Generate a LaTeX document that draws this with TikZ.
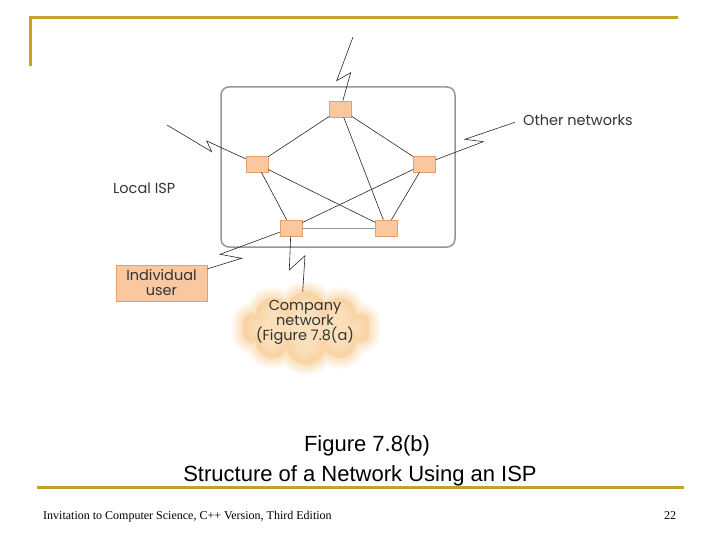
\documentclass[tikz,border=0pt]{standalone}
\usepackage{fontspec}
\setmainfont{Liberation Sans}
\newfontfamily\figfont{Poppins}
\newfontfamily\footfont{Liberation Serif}
\usetikzlibrary{shapes.symbols}

\definecolor{slidegold}{RGB}{198,160,42}
\definecolor{ispgray}{RGB}{150,150,150}
\definecolor{routerfill}{RGB}{250,200,160}
\definecolor{routeredge}{RGB}{228,160,110}
\definecolor{cloudfill}{RGB}{248,205,150}

\begin{document}
\begin{tikzpicture}[x = 1pt, y = -1pt,
	router/.style = {draw = routeredge, fill = routerfill, line width = 0.6pt,
		minimum width = 22pt, minimum height = 16pt, inner sep = 0pt},
	userbox/.style = {draw = routeredge, fill = routerfill, line width = 0.6pt,
		minimum width = 91pt, minimum height = 36pt, inner sep = 0pt, align = center},
	figtext/.style = {font = \figfont\fontsize{14.5}{15}\selectfont, text = black!80, align = center, inner sep = 0pt},
	link/.style = {line width = 0.6pt, black!85},
	bolt/.style = {line width = 0.6pt, black!85}]

	% Page size
	
	\useasboundingbox (0, 0) rectangle (720, 540);
	
	% Slide frame
	
	\draw [slidegold, line width = 3pt] (30, 66) -- (30, 18) -- (678, 18);
	\draw [slidegold, line width = 3pt] (37, 487) -- (684, 487);
	
	% The ISP
	
	\draw [ispgray, line width = 1.5pt, rounded corners = 8pt] (221, 87) rectangle (455, 247);
	
	% Routers
	
	\node [router] (rtop) at (340.5, 109) {};
	\node [router] (rleft) at (257, 164) {};
	\node [router] (rright) at (424.5, 164) {};
	\node [router] (rbl) at (291, 228) {};
	\node [router] (rbr) at (386.5, 228) {};
	
	% Links between routers
	
	\begin{scope}[link]
	
		\draw (rtop) -- (rleft);
		\draw (rtop) -- (rright);
		\draw (rtop) -- (rbr);
		\draw (rleft) -- (rbl);
		\draw (rleft) -- (rbr);
		\draw (rright) -- (rbl);
		\draw (rright) -- (rbr);
		
	\end{scope}
	
	\draw [ispgray, line width = 0.8pt] (rbl) -- (rbr);
	
	% The company network cloud
	
	\foreach \w/\o in {22/0.15, 16/0.2, 10/0.25, 4/0.3}
		\node [cloud, cloud puffs = 10, cloud ignores aspect, minimum width = 128pt, minimum height = 72pt,
			fill = cloudfill, draw = cloudfill, line width = \w pt, opacity = \o] at (306, 328) {};
	
	\node [figtext] (company) at (305, 322.5) {Company\\network\\(Figure 7.8(a)};
	
	% Outside world
	
	\node [userbox, figtext] (user) at (161.5, 283) {Individual\\user};
	\node [figtext, anchor = west] (localisp) at (113, 188) {Local ISP};
	\node [figtext, anchor = west] (other) at (523, 120) {Other networks};
	
	\coordinate (topend) at (353, 37);
	\coordinate (leftend) at (167, 125);
	\coordinate (rightend) at (515, 122.3);
	\coordinate (cloudtop) at (302.7, 291.7);
	
	% Lightning links
	
	\begin{scope}[bolt]
	
		\draw (rtop) -- (350.7, 72.7) -- (336.7, 80.7) -- (topend);
		\draw (rleft) -- (206.7, 141) -- (211.7, 151.7) -- (leftend);
		\draw (rright) -- (483.3, 141.7) -- (465, 139.3) -- (rightend);
		\draw (rbl) -- (220, 254.3) -- (241.7, 258.3) -- (user);
		\draw (rbl) -- (289.3, 270) -- (305, 255.7) -- (cloudtop);
		
	\end{scope}
	
	% Caption and footer
	
	\node [font = \fontsize{22}{26}\selectfont] (figno) at (367, 446) {Figure 7.8(b)};
	\node [font = \fontsize{22}{26}\selectfont] (figtitle) at (360, 476) {Structure of a Network Using an ISP};
	\node [font = \footfont\fontsize{12}{14}\selectfont, anchor = west, inner sep = 0pt] (footer) at (43, 517)
		{Invitation to Computer Science, C++ Version, Third Edition};
	\node [font = \footfont\fontsize{12}{14}\selectfont, inner sep = 0pt] (pageno) at (670, 516) {22};
		
\end{tikzpicture}
\end{document}
